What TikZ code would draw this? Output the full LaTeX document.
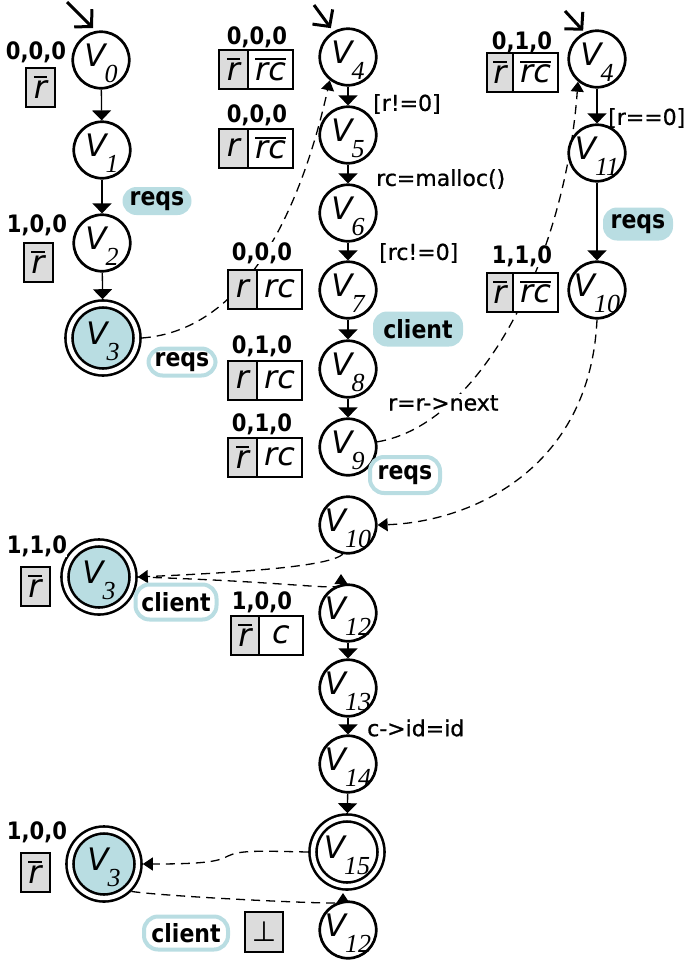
\documentclass[tikz,border=0pt]{standalone}
\usepackage{fontspec}
\setmainfont{DejaVu Sans}
\newfontfamily\subfam{Liberation Serif}
\newfontfamily\lblfam{DejaVu Sans}[FakeStretch=0.88]
\newfontfamily\edgefam{DejaVu Sans}[FakeBold=0.8]
\usetikzlibrary{arrows.meta,backgrounds}
\definecolor{pblue}{HTML}{B9DDE2}
\definecolor{pgray}{HTML}{DCDCDC}
\newcommand\vlab[1]{\smash{\makebox[0pt]{\raisebox{-6pt}{\fontsize{31}{31}\selectfont\itshape V}\kern-1pt\raisebox{-22pt}{\subfam\itshape\fontsize{26}{26}\selectfont #1}}}}
\newcommand\ovl[1]{\vbox{\hrule height 2pt\kern 2.5pt\hbox{#1}}}
\tikzset{
  st/.style={circle, draw, line width=2.7pt, minimum size=56.5pt, inner sep=0pt, outer sep=1.35pt, fill=white},
  fin/.style={circle, draw, line width=2.6pt, double=white, double distance=4.4pt, minimum size=68pt, inner sep=0pt, outer sep=4.8pt},
  tr/.style={-{Triangle[width=19pt,length=10pt]}, line width=1.3pt},
  dtr/.style={dash pattern=on 9pt off 6pt, line width=1.3pt, -{Triangle[width=13pt,length=10pt]}},
  init/.style={-{Straight Barb[length=12pt,width=25pt]}, line width=3pt},
  cellg/.style={draw, line width=2pt, fill=pgray, inner sep=0pt, outer sep=0pt, minimum width=29pt, minimum height=39pt, font=\fontsize{32}{32}\selectfont\itshape},
  cellw/.style={draw, line width=2pt, fill=white, inner sep=0pt, outer sep=0pt, minimum width=45pt, minimum height=39pt, anchor=west, font=\fontsize{32}{32}\selectfont\itshape},
  num/.style={font=\lblfam\bfseries\fontsize{24}{24}\selectfont, inner sep=0pt, fill=white},
  elbl/.style={font=\edgefam\fontsize{22}{22}\selectfont, inner sep=1pt, anchor=west},
  pillf/.style={rounded corners=14pt, fill=pblue, inner sep=0pt, font=\lblfam\bfseries\fontsize{25}{25}\selectfont},
  pillo/.style={rounded corners=14pt, draw=pblue, line width=4pt, fill=white, inner sep=0pt, font=\lblfam\bfseries\fontsize{25}{25}\selectfont},
}
\begin{document}
\begin{tikzpicture}[x=1pt,y=-1pt]
\useasboundingbox (0,0) rectangle (685,964);

% states, left column
\node[st] (v0) at (101,60) {\vlab{0}};
\node[st] (v1) at (102,150) {\vlab{1}};
\node[st] (v2) at (102,243) {\vlab{2}};
\node[fin, fill=pblue] (v3a) at (103,338) {\vlab{3}};
% middle column
\node[st] (v4m) at (348,57) {\vlab{4}};
\node[st] (v5) at (348,135) {\vlab{5}};
\node[st] (v6) at (348,213) {\vlab{6}};
\node[st] (v7) at (348,290) {\vlab{7}};
\node[st] (v8) at (348,369) {\vlab{8}};
\node[st] (v9) at (348,447) {\vlab{9}};
\node[st] (v10m) at (348,525) {\vlab{10}};
\node[st] (v12m) at (348,613) {\vlab{12}};
\node[st] (v13) at (348,688) {\vlab{13}};
\node[st] (v14) at (348,764) {\vlab{14}};
\node[fin, fill=white] (v15) at (347,852) {\vlab{15}};
\node[st] (v12b) at (348,930) {\vlab{12}};
% right column
\node[st] (v4r) at (597,59) {\vlab{4}};
\node[st] (v11) at (597,153) {\vlab{11}};
\node[st] (v10r) at (597,290) {\vlab{10}};
% bottom left
\node[fin, fill=pblue] (v3b) at (99,577) {\vlab{3}};
\node[fin, fill=pblue] (v3c) at (104,864) {\vlab{3}};

% initial arrows
\coordinate (i0) at (67,2);
\coordinate (i4m) at (314,5);
\coordinate (i4r) at (565,11);
\draw[init, shorten >=4pt] (i0) -- (v0.100);
\draw[init, shorten >=4pt] (i4m) -- (v4m.120);
\draw[init, shorten >=2pt] (i4r) -- (v4r.115);

% solid transitions
\draw[tr] (v0) -- (v1);
\draw[tr] (v1) -- (v2);
\draw[tr] (v2) -- (v3a);
\draw[tr] (v4m) -- (v5);
\draw[tr] (v5) -- (v6);
\draw[tr] (v6) -- (v7);
\draw[tr] (v7) -- (v8);
\draw[tr] (v8) -- (v9);
\draw[tr] (v12m) -- (v13);
\draw[tr] (v13) -- (v14);
\draw[tr] (v14) -- (v15);
\draw[tr] (v4r) -- (v11);
\draw[tr] (v11) -- (v10r);

% state annotations (numbers and boxes)
\node[num] (n0) at (36,52) {0,0,0};
\node[cellg] (c0) at (40.5,87) {\ovl{r}};
\node[num] (n2) at (37,225) {1,0,0};
\node[cellg] (c2) at (38,262) {\ovl{r}};

\node[num] (n4) at (257,37) {0,0,0};
\node[cellg] (c4g) at (233.5,69.5) {\ovl{r}};
\node[cellw] (c4w) at (c4g.east) {\ovl{rc}};
\node[num] (n5) at (257,115) {0,0,0};
\node[cellg] (c5g) at (233.5,148) {r};
\node[cellw] (c5w) at (c5g.east) {\ovl{rc}};
\node[num] (n7) at (262,253) {0,0,0};
\node[cellg] (c7g) at (242.5,289) {r};
\node[cellw] (c7w) at (c7g.east) {rc};
\node[num] (n8) at (262,346) {0,1,0};
\node[cellg] (c8g) at (242.5,380) {r};
\node[cellw] (c8w) at (c8g.east) {rc};
\node[num] (n9) at (262,424) {0,1,0};
\node[cellg] (c9g) at (242.5,457) {\ovl{r}};
\node[cellw] (c9w) at (c9g.east) {rc};

\node[num] (n4r) at (522,42) {0,1,0};
\node[cellg, minimum width=26pt] (c4rg) at (500,72) {\ovl{r}};
\node[cellw] (c4rw) at (c4rg.east) {\ovl{rc}};
\node[num] (n10r) at (522,256) {1,1,0};
\node[cellg, minimum width=26pt] (c10rg) at (500,292) {\ovl{r}};
\node[cellw] (c10rw) at (c10rg.east) {\ovl{rc}};

\node[num] (n12) at (262,602) {1,0,0};
\node[cellg, minimum width=28pt] (c12g) at (245,635) {\ovl{r}};
\node[cellw, minimum width=44pt] (c12w) at (c12g.east) {c};

\node[num] (n3b) at (37,546) {1,1,0};
\node[cellg] (c3b) at (35,586) {\ovl{r}};
\node[num] (n3c) at (37,832) {1,0,0};
\node[cellg] (c3c) at (35,872) {\ovl{r}};
\node[cellg, minimum width=38pt, minimum height=40pt, font=\fontsize{28}{28}\selectfont] (bot) at (264,932) {⊥};

% event pills
\node[pillf, minimum width=69pt, minimum height=28pt] (p1) at (157,201) {reqs};
\node[pillo, minimum width=67pt, minimum height=27pt] (p2) at (182,362) {reqs};
\node[pillf, minimum width=90pt, minimum height=35pt] (p3) at (418,329) {client};
\node[pillo, minimum width=70pt, minimum height=36pt] (p4) at (405,475) {reqs};
\node[pillf, minimum width=70pt, minimum height=33pt] (p5) at (638,224) {reqs};
\node[pillo, minimum width=81pt, minimum height=35pt] (p6) at (176,602) {client};
\node[pillo, minimum width=84pt, minimum height=33pt] (p7) at (186,933) {client};

% edge labels
\node[elbl] (e1) at (372,104) {[r!=0]};
\node[elbl] (e2) at (375,179) {rc=malloc()};
\node[elbl] (e3) at (378,253) {[rc!=0]};
\node[elbl, fill=white] (e4) at (387,403) {r=r->next};
\node[elbl] (e5) at (607,118) {[r==0]};
\node[elbl] (e6) at (366,728) {c->id=id};

% dashed return edges
\coordinate (a12m) at (341,574);
\coordinate (a12b) at (343,893);
\begin{pgfonlayer}{background}
\draw[dtr] (v3a.east) .. controls (250,330) and (303,200) .. (v4m.-128);
\draw[dtr] (v9.10) .. controls (480,425) and (565,260) .. (v4r.-130);
\draw[dtr] (v10r.south) .. controls (590,470) and (470,522) .. (v10m.east);
\draw[dtr] (v10m.-100) .. controls (330,566) and (250,572) .. (v3b.east);
\draw[dtr] (v3b.east) .. controls (300,582) and (341,592) .. (a12m);
\draw[dtr] (v15.west) .. controls (260,851) and (240,850) .. (228,856) .. controls (218,862) and (200,864) .. (v3c.east);
\draw[dtr] (v3c.-45) .. controls (170,897) and (343,905) .. (a12b);
\end{pgfonlayer}
\end{tikzpicture}
\end{document}
